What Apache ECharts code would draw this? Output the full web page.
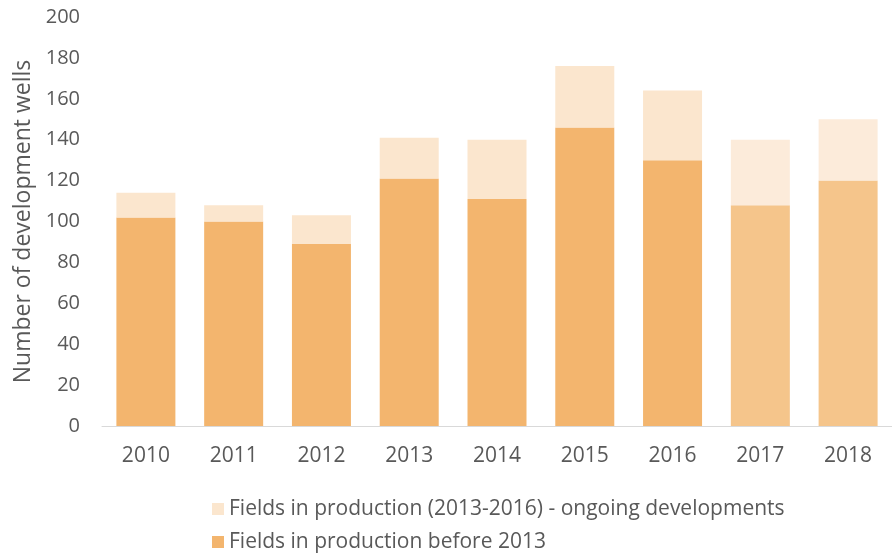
<!DOCTYPE html>
<html>
<head>
<meta charset="utf-8">
<script src="https://cdn.jsdelivr.net/npm/echarts@6/dist/echarts.min.js"></script>
<style>
  html, body { margin: 0; padding: 0; background: #fff; }
  #main { width: 892px; height: 553px; }
</style>
</head>
<body>
<div id="main"></div>
<script>
// years and wells per category
var years = ["2010", "2011", "2012", "2013", "2014", "2015", "2016", "2017", "2018"];
var beforeWells = [102, 100, 89, 121, 111, 146, 130, 108, 120];
var ongoingWells = [12, 8, 14, 20, 29, 30, 34, 32, 30];
var yTicks = [0, 20, 40, 60, 80, 100, 120, 140, 160, 180, 200];

var nameOngoing = "Fields in production (2013-2016) - ongoing developments";
var nameBefore = "Fields in production before 2013";

var darkColor = "#F3B56E";
var lightColor = "#FBE6CE";
// last two years are drawn paler
var darkPale = "#F5C58B";
var lightPale = "#FCEBDA";

var font = "'Open Sans', sans-serif";
var txt = "#595959";

// one legend row per series, stacked like the original
function legendRow(name, top) {
  return {
    data: [name],
    left: 212,
    top: top,
    padding: 0,
    itemWidth: 12,
    itemHeight: 12,
    itemTextGap: 6,
    icon: "rect",
    textStyle: { color: txt, fontFamily: font, fontSize: 21, lineHeight: 24 }
  };
}

var myChart = echarts.init(document.getElementById("main"));
myChart.setOption({
  animation: false,
  grid: { left: 102, right: -9, top: 17, bottom: 127 },
  legend: [legendRow(nameOngoing, 497), legendRow(nameBefore, 530)],
  xAxis: {
    type: "category",
    data: years,
    axisLine: { lineStyle: { color: "#D9D9D9", width: 1 } },
    axisTick: { show: false },
    axisLabel: { color: txt, fontFamily: font, fontSize: 21, margin: 20 }
  },
  yAxis: {
    type: "value",
    min: yTicks[0],
    max: yTicks[yTicks.length - 1],
    interval: 20,
    name: "Number of development wells",
    nameLocation: "middle",
    nameGap: 66,
    nameTextStyle: { color: txt, fontFamily: font, fontSize: 23 },
    axisLine: { show: false },
    axisTick: { show: false },
    splitLine: { show: false },
    axisLabel: { color: txt, fontFamily: font, fontSize: 20, margin: 22 }
  },
  series: [
    {
      name: nameBefore,
      type: "bar",
      stack: "wells",
      barWidth: 59,
      itemStyle: { color: darkColor },
      data: beforeWells.map(function (v, i) {
        return i >= 7 ? { value: v, itemStyle: { color: darkPale } } : v;
      })
    },
    {
      name: nameOngoing,
      type: "bar",
      stack: "wells",
      barWidth: 59,
      itemStyle: { color: lightColor },
      data: ongoingWells.map(function (v, i) {
        return i >= 7 ? { value: v, itemStyle: { color: lightPale } } : v;
      })
    }
  ]
});
</script>
</body>
</html>
